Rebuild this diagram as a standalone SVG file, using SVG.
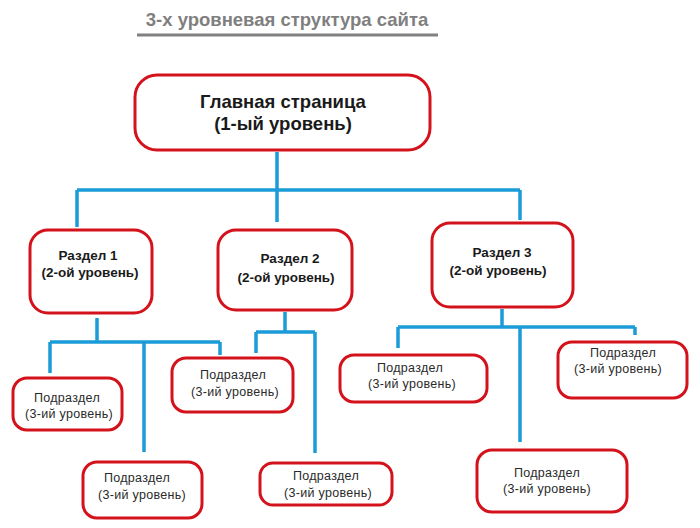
<svg xmlns="http://www.w3.org/2000/svg" width="700" height="528" viewBox="0 0 700 528">
<style>
.box{fill:#fff;stroke:#d3121c;stroke-width:3}
.ln{fill:none;stroke:#1b9bd7;stroke-width:3.5}
text{font-family:"Liberation Sans",Arial,sans-serif;fill:#1a1a1a;text-anchor:middle}
.t1{font-size:18.5px;font-weight:bold}
.t2{font-size:13.5px;font-weight:bold}
.t3{font-size:12.5px;letter-spacing:0.3px;fill:#2a2a2a}
.title{font-size:18.5px;font-weight:bold;fill:#7f7f7f}
</style>
<rect width="700" height="528" fill="#fff"/>
<g id="title">
<text class="title" x="287" y="26">3-х уровневая структура сайта</text>
<line x1="137" y1="35" x2="438" y2="35" stroke="#808080" stroke-width="3"/>
</g>
<g id="connectors">
<path class="ln" d="M277 152V190M77 190H520M77 190V227M277 190V222M520 190V220"/>
<path class="ln" d="M97 318V342M50 342H220M50 342V373M144 342V452M220 342V355"/>
<path class="ln" d="M285 312V332M256 332H315M256 332V353M315 332V453"/>
<path class="ln" d="M502 309V327M398 327H635M398 327V348M635 327V335M520 327V442"/>
</g>
<g id="main">
<rect class="box" x="135" y="75" width="295" height="75" rx="22"/>
<text class="t1" x="283" y="108">Главная страница</text>
<text class="t1" x="283" y="130">(1-ый уровень)</text>
</g>
<g id="s1">
<rect class="box" x="30" y="230" width="122" height="83" rx="18"/>
<text class="t2" x="88" y="260">Раздел 1</text>
<text class="t2" x="90" y="277">(2-ой уровень)</text>
</g>
<g id="s2">
<rect class="box" x="218" y="230" width="134" height="80" rx="18"/>
<text class="t2" x="290" y="263">Раздел 2</text>
<text class="t2" x="286" y="282">(2-ой уровень)</text>
</g>
<g id="s3">
<rect class="box" x="432" y="223" width="141" height="84" rx="18"/>
<text class="t2" x="502" y="257">Раздел 3</text>
<text class="t2" x="498" y="275">(2-ой уровень)</text>
</g>
<g id="s1a">
<rect class="box" x="13" y="378" width="109" height="52" rx="14"/>
<text class="t3" x="67" y="402">Подраздел</text>
<text class="t3" x="69" y="418">(3-ий уровень)</text>
</g>
<g id="s1b">
<rect class="box" x="83" y="462" width="119" height="56" rx="14"/>
<text class="t3" x="137" y="482">Подраздел</text>
<text class="t3" x="142" y="499">(3-ий уровень)</text>
</g>
<g id="s2a">
<rect class="box" x="172" y="358" width="121" height="54" rx="14"/>
<text class="t3" x="233" y="379">Подраздел</text>
<text class="t3" x="235" y="396">(3-ий уровень)</text>
</g>
<g id="s2b">
<rect class="box" x="260" y="463" width="132" height="42" rx="13"/>
<text class="t3" x="326" y="480">Подраздел</text>
<text class="t3" x="328" y="497">(3-ий уровень)</text>
</g>
<g id="s3a">
<rect class="box" x="340" y="355" width="147" height="47" rx="14"/>
<text class="t3" x="410" y="372">Подраздел</text>
<text class="t3" x="412" y="388">(3-ий уровень)</text>
</g>
<g id="s3b">
<rect class="box" x="558" y="342" width="129" height="56" rx="14"/>
<text class="t3" x="623" y="357">Подраздел</text>
<text class="t3" x="618" y="373">(3-ий уровень)</text>
</g>
<g id="s3c">
<rect class="box" x="477" y="450" width="150" height="62" rx="15"/>
<text class="t3" x="547" y="477">Подраздел</text>
<text class="t3" x="547" y="493">(3-ий уровень)</text>
</g>
</svg>
